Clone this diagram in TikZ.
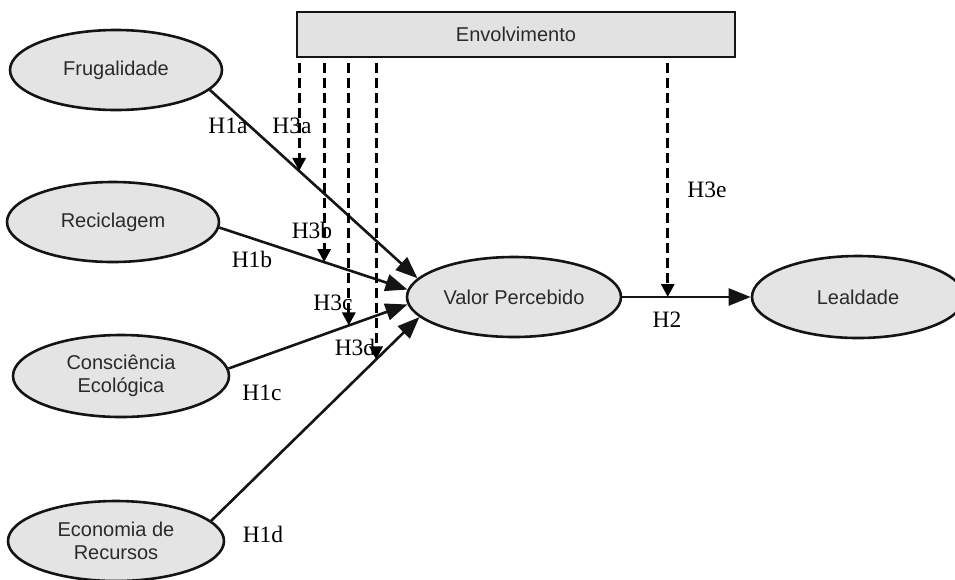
\documentclass[tikz,border=0pt]{standalone}
\usepackage{fontspec}
\usetikzlibrary{shapes.geometric,arrows.meta,calc}
\newfontfamily\sansf{Liberation Sans}
\newfontfamily\serf{Liberation Serif}
\definecolor{shapefill}{HTML}{E4E4E4}
\definecolor{boxfill}{HTML}{E2E2E2}
\definecolor{edge}{HTML}{141414}
\definecolor{txt}{HTML}{2A2A2A}
\tikzset{
  ell/.style={ellipse, draw=edge, line width=2.6pt, fill=shapefill, minimum width=212pt, minimum height=80pt, inner sep=0pt, align=center, text=txt, font=\sansf\fontsize{20}{22.5}\selectfont},
  envbox/.style={rectangle, draw=edge, line width=2.6pt, fill=boxfill, minimum width=438pt, minimum height=45pt, inner sep=0pt, text=txt, font=\sansf\fontsize{20}{22}\selectfont},
  sol/.style={draw=edge, line width=2.6pt, -{Triangle[length=22pt,width=17pt]}},
  dsh/.style={draw=black, line width=3pt, dash pattern=on 10pt off 5pt, -{Triangle[length=13pt,width=13pt]}},
  lab/.style={anchor=base, inner sep=0pt, font=\serf\fontsize{23.5}{25}\selectfont}
}
\begin{document}
\begin{tikzpicture}[x=1pt,y=-1pt]
\useasboundingbox (0,0) rectangle (955,579);
\clip (0,0) rectangle (955,579);
\fill[white] (0,0) rectangle (955,579);
% nodes
\node[envbox] (env) at (516,34.5) {Envolvimento};
\node[ell] (fru) at (116,70) {Frugalidade};
\node[ell] (rec) at (113,222) {Reciclagem};
\node[ell, minimum width=216pt, minimum height=82pt] (con) at (121,376) {Consciência\\Ecológica};
\node[ell, minimum width=216pt, minimum height=80pt] (eco) at (116,541) {Economia de\\Recursos};
\node[ell, minimum width=214pt] (val) at (514,297) {Valor Percebido};
\node[ell, minimum width=212pt, minimum height=82pt] (lea) at (858,297) {Lealdade};
% solid paths
\draw[sol] (fru.-12) -- coordinate[pos=0.43] (ia) (val.169);
\draw[sol] (rec.-3) -- coordinate[pos=0.557] (ib) (val.176);
\draw[sol] (con.4) -- coordinate[pos=0.672] (ic) (val.184);
\draw[sol] (eco.12) -- coordinate[pos=0.792] (id) (val.192);
\draw[sol] (val.east) -- coordinate[pos=0.354] (ie) (lea.west);
% dashed moderators
\draw[dsh] ($(env.south -| ia)+(0,5)$) -- (ia);
\draw[dsh] ($(env.south -| ib)+(0,5)$) -- (ib);
\draw[dsh] ($(env.south -| ic)+(0,5)$) -- (ic);
\draw[dsh] ($(env.south -| id)+(0,5)$) -- (id);
\draw[dsh] ($(env.south -| ie)+(0,5)$) -- (ie);
% labels
\node[lab] (l1a) at (228,133) {H1a};
\node[lab] (l3a) at (292,133) {H3a};
\node[lab] (l3b) at (312,238) {H3b};
\node[lab] (l1b) at (252,267) {H1b};
\node[lab] (l3c) at (333,310) {H3c};
\node[lab] (l3d) at (355,355) {H3d};
\node[lab] (l1c) at (262,400) {H1c};
\node[lab] (l1d) at (263,542) {H1d};
\node[lab] (l2) at (667,327) {H2};
\node[lab] (l3e) at (707,197) {H3e};
\end{tikzpicture}
\end{document}
